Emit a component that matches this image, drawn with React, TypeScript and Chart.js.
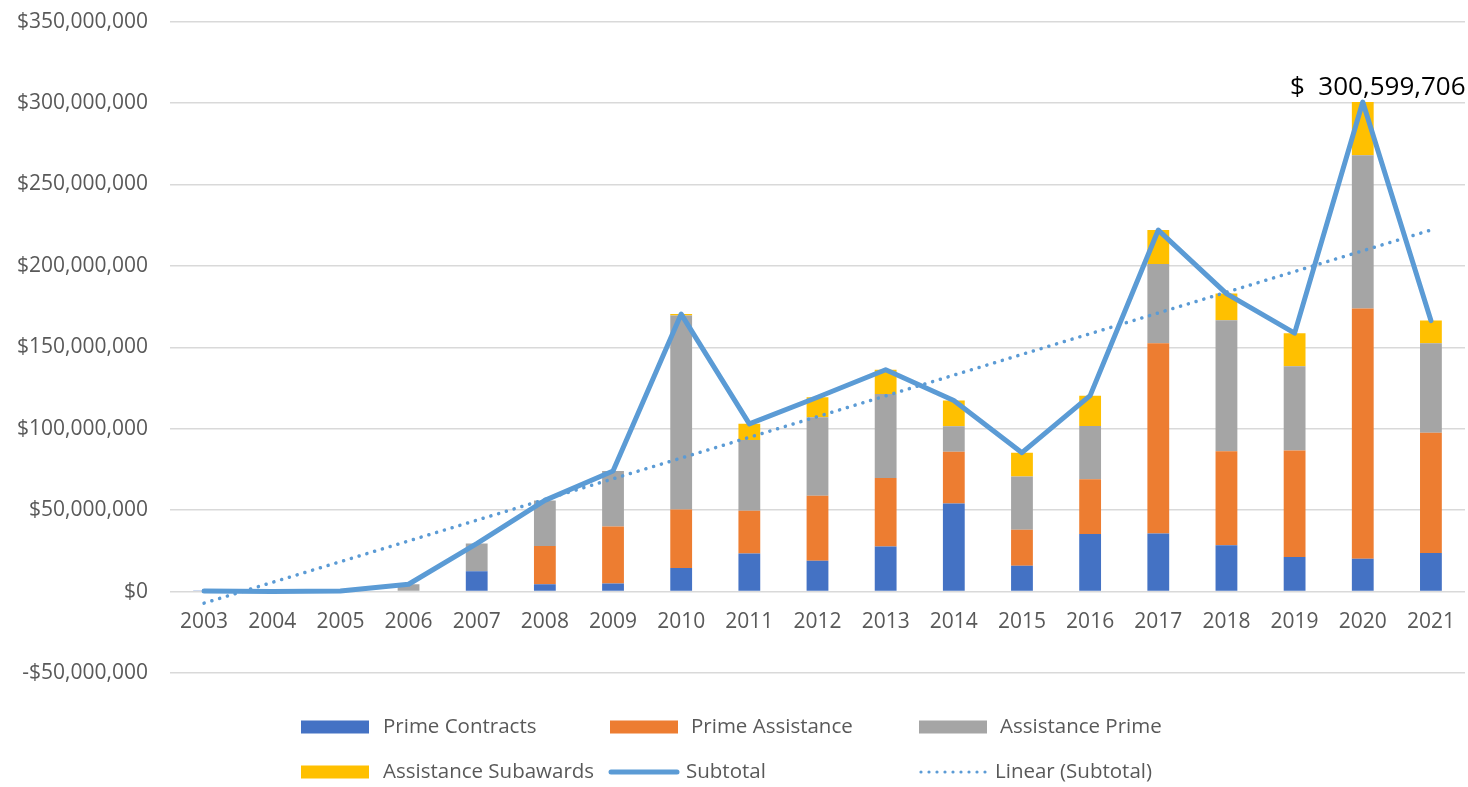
import React, { useEffect, useRef } from "react";
import { Chart, registerables } from "chart.js";

Chart.register(...registerables);

const years = ["2003","2004","2005","2006","2007","2008","2009","2010","2011","2012","2013","2014","2015","2016","2017","2018","2019","2020","2021"];

// values in millions of dollars
const primeContracts = [0.4, 0.1, 0.3, 0, 12.5, 4.5, 5, 14.4, 23.4, 18.9, 27.7, 54.1, 15.8, 35.3, 35.7, 28.4, 21.2, 20.1, 23.7];
const primeAssistance = [0, 0, 0, 0, 0, 23.5, 35, 36, 26.2, 40, 42, 31.8, 22.1, 33.6, 116.8, 57.7, 65.5, 153.8, 73.8];
const assistancePrime = [0, 0, 0, 4.5, 17, 28, 34, 119.2, 43.5, 48.1, 51.7, 15.6, 32.8, 32.8, 48.7, 80.5, 51.7, 94.1, 55];
const assistanceSubawards = [0, 0, 0, 0, 0, 0, 0, 0.8, 9.9, 12.3, 14.8, 15.8, 14.6, 18.6, 20.8, 16.4, 20.3, 32.599706, 13.9];
const subtotal = [0.4, 0.1, 0.3, 4.5, 29.5, 56, 74, 170.4, 103, 119.3, 136.2, 117.3, 85.3, 120.3, 222, 183, 158.7, 300.599706, 166.4];
const trendEnds = [-7.1, 222];

const peakLabel = "$  300,599,706";
const peakIndex = 17;

const M = 1e6;
const FONT = "'Open Sans', sans-serif";
const TEXT = "#595959";
const SHIFT = 13; // canvas is moved up by this many pixels
const CANVAS_H = 787 + SHIFT;

const legendItems = [
  { label: "Prime Contracts", kind: "box", color: "#4472C4", x: 301, row: 0, tx: 383 },
  { label: "Prime Assistance", kind: "box", color: "#ED7D31", x: 610, row: 0, tx: 691 },
  { label: "Assistance Prime", kind: "box", color: "#A5A5A5", x: 919, row: 0, tx: 1000 },
  { label: "Assistance Subawards", kind: "box", color: "#FFC000", x: 301, row: 1, tx: 383 },
  { label: "Subtotal", kind: "line", color: "#5B9BD5", x: 609, row: 1, tx: 686 },
  { label: "Linear (Subtotal)", kind: "dot", color: "#5B9BD5", x: 919, row: 1, tx: 995 },
];

function fmtMoney(v: number) {
  const neg = v < 0;
  const s = Math.round(Math.abs(v)).toLocaleString("en-US");
  return (neg ? "-$" : "$") + s;
}

export default function App() {
  const ref = useRef<HTMLCanvasElement | null>(null);

  useEffect(() => {
    document.body.style.margin = "0";
    document.body.style.overflow = "hidden";
    const canvas = ref.current;
    if (!canvas) return;

    const overlay = {
      id: "overlay",
      afterDraw(chart: any) {
        const ctx = chart.ctx;
        ctx.save();
        const meta = chart.getDatasetMeta(4);
        const pt = meta.data[peakIndex];
        if (pt) {
          ctx.font = `26px ${FONT}`;
          ctx.fillStyle = "#000000";
          ctx.textAlign = "center";
          ctx.textBaseline = "middle";
          ctx.fillText(peakLabel, pt.x + 15, pt.y - 14);
        }
        const rowsY = [727 + SHIFT, 772 + SHIFT];
        ctx.font = `20.5px ${FONT}`;
        ctx.textBaseline = "middle";
        ctx.textAlign = "left";
        for (const it of legendItems) {
          const y = rowsY[it.row];
          if (it.kind === "box") {
            ctx.fillStyle = it.color;
            ctx.fillRect(it.x, y - 6.5, 68, 13);
          } else if (it.kind === "line") {
            ctx.strokeStyle = it.color;
            ctx.lineWidth = 5;
            ctx.lineCap = "round";
            ctx.beginPath();
            ctx.moveTo(it.x + 2, y);
            ctx.lineTo(it.x + 68, y);
            ctx.stroke();
          } else {
            ctx.fillStyle = it.color;
            for (let dx = 2; dx <= 68; dx += 8) {
              ctx.beginPath();
              ctx.arc(it.x + dx, y, 1.6, 0, Math.PI * 2);
              ctx.fill();
            }
          }
          ctx.fillStyle = TEXT;
          ctx.fillText(it.label, it.tx, y);
        }
        ctx.restore();
      },
    };

    const n = years.length;
    const chart = new Chart(canvas, {
      type: "bar",
      data: {
        labels: years,
        datasets: [
          { type: "bar", label: "Prime Contracts", data: primeContracts.map((v) => v * M), backgroundColor: "#4472C4", stack: "bars", order: 2, barPercentage: 0.32, categoryPercentage: 1 },
          { type: "bar", label: "Prime Assistance", data: primeAssistance.map((v) => v * M), backgroundColor: "#ED7D31", stack: "bars", order: 2, barPercentage: 0.32, categoryPercentage: 1 },
          { type: "bar", label: "Assistance Prime", data: assistancePrime.map((v) => v * M), backgroundColor: "#A5A5A5", stack: "bars", order: 2, barPercentage: 0.32, categoryPercentage: 1 },
          { type: "bar", label: "Assistance Subawards", data: assistanceSubawards.map((v) => v * M), backgroundColor: "#FFC000", stack: "bars", order: 2, barPercentage: 0.32, categoryPercentage: 1 },
          { type: "line", label: "Subtotal", data: subtotal.map((v) => v * M), borderColor: "#5B9BD5", backgroundColor: "#5B9BD5", borderWidth: 5, pointRadius: 0, tension: 0, stack: "sub", order: 0, borderJoinStyle: "round", borderCapStyle: "round" },
          { type: "line", label: "Linear (Subtotal)", data: years.map((_, i) => (i === 0 ? trendEnds[0] * M : i === n - 1 ? trendEnds[1] * M : null)), borderColor: "#5B9BD5", borderWidth: 3.5, borderDash: [0.1, 8], borderCapStyle: "round", pointRadius: 0, spanGaps: true, stack: "trend", order: 1 },
        ] as any,
      },
      options: {
        animation: false,
        responsive: false,
        maintainAspectRatio: false,
        layout: { padding: { top: 0, right: 3, bottom: 114, left: 0 } },
        plugins: { legend: { display: false }, tooltip: { enabled: false } },
        scales: {
          x: {
            stacked: true,
            position: { y: 0 } as any,
            grid: { display: false },
            border: { display: false },
            ticks: { color: TEXT, font: { family: FONT, size: 21 }, padding: 10, maxRotation: 0 },
          },
          y: {
            stacked: true,
            min: -50 * M,
            max: 350 * M,
            grid: { color: "#D9D9D9", lineWidth: 1.5, drawTicks: false },
            border: { display: false },
            afterFit: (scale: any) => { scale.width = 170; },
            ticks: {
              stepSize: 50 * M,
              color: TEXT,
              font: { family: FONT, size: 21 },
              padding: 22,
              callback: (v: any) => fmtMoney(Number(v)),
            },
          },
        },
      },
      plugins: [overlay],
    });
    return () => chart.destroy();
  }, []);

  return (
    <div style={{ position: "absolute", left: 0, top: 0, width: 1468, height: 787, background: "#fff", overflow: "hidden" }}>
      <canvas ref={ref} width={1468} height={CANVAS_H} style={{ position: "absolute", left: 0, top: -SHIFT, width: 1468, height: CANVAS_H, display: "block" }} />
    </div>
  );
}
